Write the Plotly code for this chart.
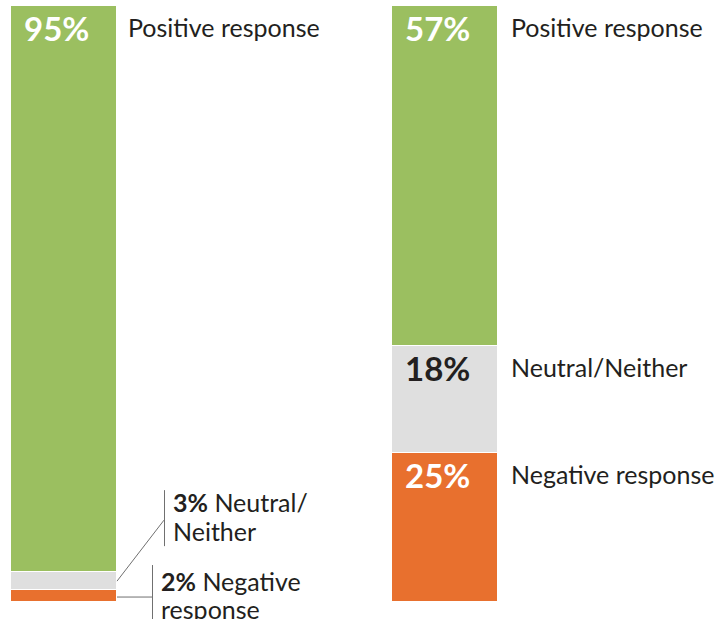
import plotly.graph_objects as go

# Survey results for two questions, shares in percent
categories = ["Positive response", "Neutral/Neither", "Negative response"]
question_a = [95, 3, 2]
question_b = [57, 18, 25]
pct_labels_a = ["95%", "3%", "2%"]
pct_labels_b = ["57%", "18%", "25%"]

colors = ["#9bbf60", "#dfdfdf", "#e8702e"]
pct_text_colors = ["#ffffff", "#231f20", "#ffffff"]
TEXT = "#231f20"
LEADER = "#707070"
FONT = "Lato"
PCT_SIZE = 33
LABEL_SIZE = 25

W, H = 721, 619
BAR_W = 0.2782
X_POS = [0, 1]

fig = go.Figure()

# stack from the bottom: negative, neutral, positive
for k in reversed(range(len(categories))):
    fig.add_bar(
        x=X_POS,
        y=[question_a[k], question_b[k]],
        width=BAR_W,
        name=categories[k],
        marker=dict(color=colors[k], line=dict(color="white", width=1)),
        hoverinfo="skip",
    )


def segment_tops(values):
    # values ordered positive, neutral, negative; returns top of each segment
    neg, neu, pos = values[2], values[1], values[0]
    return [neg + neu + pos, neg + neu, neg]


def label(x, y, text, xshift, yshift, size=LABEL_SIZE, color=TEXT):
    return dict(
        x=x, y=y, xref="x", yref="y", xanchor="left", yanchor="top",
        xshift=xshift, yshift=yshift, text=text, showarrow=False,
        borderpad=0, align="left", font=dict(family=FONT, size=size, color=color),
    )


annotations = []
shapes = []

# ---- question B: all segments are tall enough for inside labels
tops_b = segment_tops(question_b)
for k in range(3):
    annotations.append(label(X_POS[1] - BAR_W / 2, tops_b[k], "<b>%s</b>" % pct_labels_b[k],
                             12, -1, size=PCT_SIZE, color=pct_text_colors[k]))
    annotations.append(label(X_POS[1] + BAR_W / 2, tops_b[k], categories[k], 12, -5))

# ---- question A: positive labelled inside, small segments use leader lines
tops_a = segment_tops(question_a)
annotations.append(label(X_POS[0] - BAR_W / 2, tops_a[0], "<b>%s</b>" % pct_labels_a[0],
                         12, -1, size=PCT_SIZE, color=pct_text_colors[0]))
annotations.append(label(X_POS[0] + BAR_W / 2, tops_a[0], categories[0], 10, -5))

right_edge_a = X_POS[0] + BAR_W / 2
neutral_mid = question_a[2] + question_a[1] / 2
negative_mid = question_a[2] / 2

# two-line callouts, one annotation per line for tighter leading
annotations.append(label(right_edge_a, neutral_mid, "<b>%s</b> Neutral/" % pct_labels_a[1], 55, 95))
annotations.append(label(right_edge_a, neutral_mid, "Neither", 55, 66))
annotations.append(label(right_edge_a, negative_mid, "<b>%s</b> Negative" % pct_labels_a[2], 43, 31))
annotations.append(label(right_edge_a, negative_mid, "response", 43, 3))

line_style = dict(color=LEADER, width=1)
# neutral leader: diagonal from the segment, then a vertical bracket
shapes.append(dict(type="line", xref="x", yref="y", xsizemode="pixel", ysizemode="pixel",
                   xanchor=right_edge_a, yanchor=neutral_mid,
                   x0=0, y0=0, x1=47, y1=61, line=line_style))
shapes.append(dict(type="line", xref="x", yref="y", xsizemode="pixel", ysizemode="pixel",
                   xanchor=right_edge_a, yanchor=neutral_mid,
                   x0=47.5, y0=35, x1=47.5, y1=91, line=line_style))
# negative leader: horizontal from the segment, then a vertical bracket
shapes.append(dict(type="line", xref="x", yref="y", xsizemode="pixel", ysizemode="pixel",
                   xanchor=right_edge_a, yanchor=negative_mid,
                   x0=0, y0=-1, x1=36, y1=-1, line=line_style))
shapes.append(dict(type="line", xref="x", yref="y", xsizemode="pixel", ysizemode="pixel",
                   xanchor=right_edge_a, yanchor=negative_mid,
                   x0=35.5, y0=31, x1=35.5, y1=-30, line=line_style))

# axis spans: 381 px between bar centres, bars from 6 px to 602 px vertically
unit_x = 381.0
left_px = 64.0
px_per_pct = 5.96
bottom_px = 602.0

fig.update_layout(
    width=W, height=H,
    margin=dict(l=0, r=0, t=0, b=0),
    paper_bgcolor="white", plot_bgcolor="white",
    barmode="stack", bargap=0,
    showlegend=False,
    xaxis=dict(range=[-left_px / unit_x, (W - left_px) / unit_x], visible=False, fixedrange=True),
    yaxis=dict(range=[-(H - bottom_px) / px_per_pct, bottom_px / px_per_pct], visible=False, fixedrange=True),
    annotations=annotations,
    shapes=shapes,
)

fig.write_html("out.html")
